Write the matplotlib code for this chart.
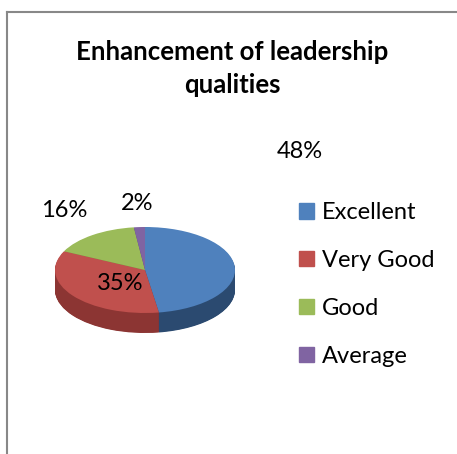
import matplotlib
matplotlib.use("Agg")
import matplotlib.pyplot as plt
import numpy as np
from matplotlib.patches import Patch

categories = ["Excellent", "Very Good", "Good", "Average"]
values = [48, 35, 16, 2]
pct_labels = ["48%", "35%", "16%", "2%"]

top_colors = ["#4F81BD", "#C0504D", "#9BBB59", "#8064A2"]
side_colors = ["#2B4A70", "#8C3533", "#6F8A3D", "#5B467A"]

W, H = 457, 454
fig = plt.figure(figsize=(W / 100, H / 100), dpi=100)
plt.rcParams['font.family'] = ['Lato', 'DejaVu Sans']


def px(x, y):
    return x / W, 1 - y / H


# pie centre (145, 270) px, semi axes 90 x 43 px
cx, cy, ra, rb = 145, 270, 90, 43
ax = fig.add_axes([(cx - 1.2 * ra) / W, (H - (cy + 1.8 * rb)) / H,
                   2.4 * ra / W, 3.0 * rb / H])

depth = 20 / rb
for dz in np.linspace(depth, 0.02, 40):
    ax.pie(values, colors=side_colors, startangle=90, counterclock=False,
           center=(0, -dz), radius=1, wedgeprops=dict(linewidth=0))
ax.pie(values, colors=top_colors, startangle=90, counterclock=False,
       center=(0, 0), radius=1, wedgeprops=dict(linewidth=0))
ax.set_aspect("auto")
ax.set_xlim(-1.2, 1.2)
ax.set_ylim(-1.8, 1.2)
ax.axis("off")

# percentage labels (Excel-style placement)
label_pos = [(300, 152), (120, 284), (64, 211), (137, 204)]
for txt, (lx, ly) in zip(pct_labels, label_pos):
    fig.text(*px(lx, ly), txt, fontsize=17, ha="center", va="center")

fig.text(*px(232, 52), "Enhancement of leadership", fontsize=18.5,
         fontweight="bold", ha="center", va="center")
fig.text(*px(232, 85), "qualities", fontsize=18.5,
         fontweight="bold", ha="center", va="center")

handles = [Patch(color=c) for c in top_colors]
fig.legend(handles, categories, loc="upper left",
           bbox_to_anchor=px(299, 202), frameon=False, fontsize=17,
           handlelength=0.64, handleheight=0.64, handletextpad=0.34,
           labelspacing=1.14, borderpad=0, borderaxespad=0)

# chart border (top and left edges visible)
fig.add_artist(plt.Line2D([7 / W, 1], [1 - 12 / H] * 2, color="#888888", lw=1.5))
fig.add_artist(plt.Line2D([7 / W] * 2, [0, 1 - 12 / H], color="#888888", lw=1.5))

fig.savefig("out.png", dpi=100)
